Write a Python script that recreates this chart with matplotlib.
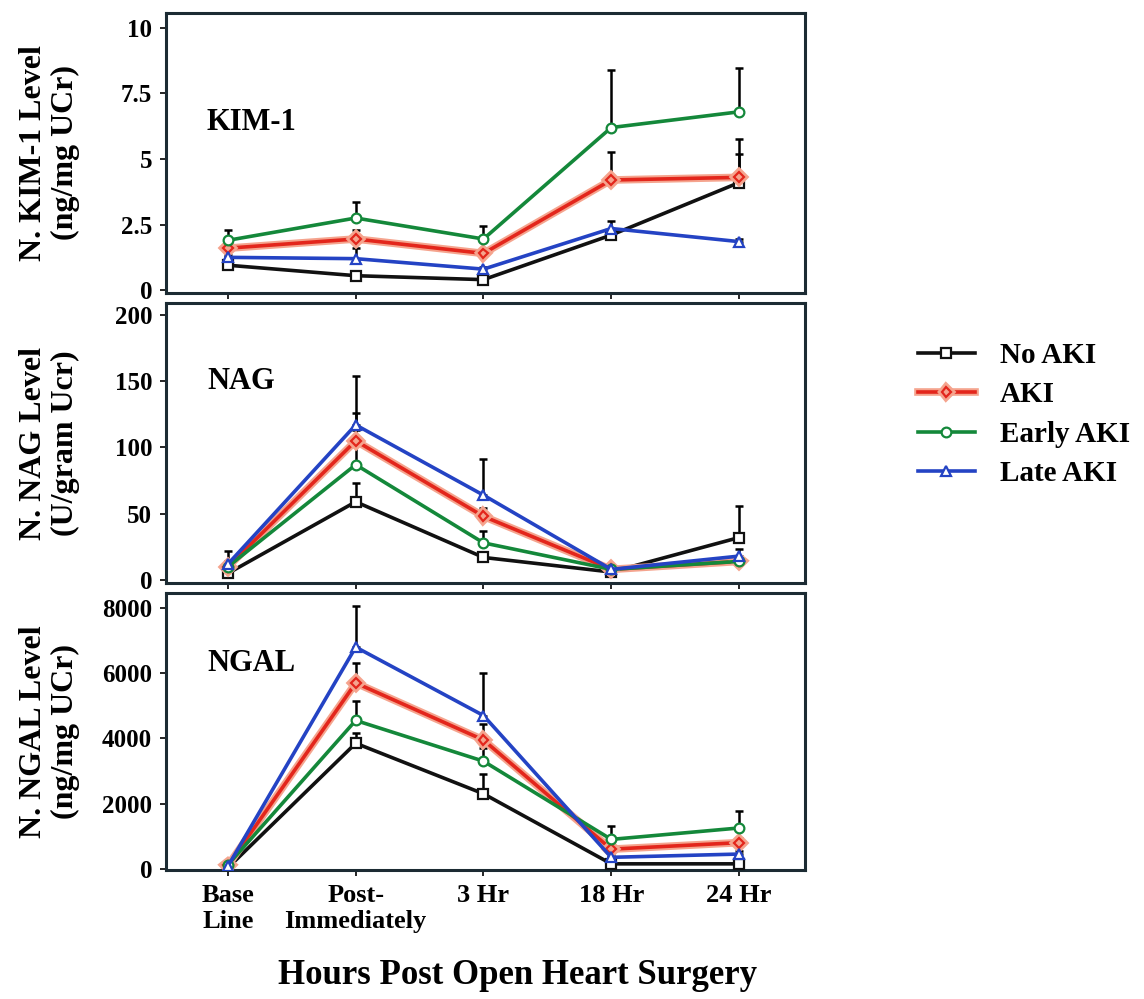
import matplotlib
matplotlib.use("Agg")
import matplotlib.pyplot as plt
import matplotlib.patheffects as pe
import numpy as np

plt.rcParams['font.family'] = ['Liberation Serif', 'DejaVu Serif']
plt.rcParams['font.weight'] = 'bold'

timepoints = ["Base\nLine", "Post-\nImmediately", "3 Hr", "18 Hr", "24 Hr"]
groups = ["No AKI", "AKI", "Early AKI", "Late AKI"]

# KIM-1 (ng/mg UCr)
kim_no_aki = [0.95, 0.55, 0.40, 2.10, 4.10]
kim_aki = [1.60, 1.95, 1.40, 4.20, 4.30]
kim_early = [1.90, 2.75, 1.95, 6.20, 6.80]
kim_late = [1.25, 1.20, 0.80, 2.35, 1.85]
kim_err_no_aki = [0.10, 0.10, 0.10, 0.10, 1.10]
kim_err_aki = [0.15, 0.35, 0.15, 1.05, 1.45]
kim_err_early = [0.40, 0.60, 0.50, 2.20, 1.67]
kim_err_late = [0.10, 0.40, 0.10, 0.30, 0.10]

# NAG (U/gram Ucr)
nag_no_aki = [5, 59, 17, 6, 32]
nag_aki = [10, 105, 48, 8, 14]
nag_early = [10, 87, 28, 8, 14]
nag_late = [12, 117, 64, 8, 18]
nag_err_no_aki = [2, 14, 3, 2, 24]
nag_err_aki = [4, 21, 6, 2, 2]
nag_err_early = [4, 26, 9, 2, 2]
nag_err_late = [10, 37, 27, 3, 5]

# NGAL (ng/mg UCr)
ngal_no_aki = [30, 3850, 2300, 150, 150]
ngal_aki = [100, 5700, 3950, 600, 800]
ngal_early = [120, 4550, 3300, 900, 1250]
ngal_late = [80, 6800, 4700, 350, 450]
ngal_err_no_aki = [20, 300, 600, 40, 40]
ngal_err_aki = [30, 600, 500, 100, 150]
ngal_err_early = [30, 600, 400, 400, 530]
ngal_err_late = [30, 1250, 1300, 80, 100]

colors = ["#111111", "#e3261c", "#14883a", "#2443c4"]
markers = ["s", "D", "o", "^"]
msizes = [7, 5, 7, 7]

panels = [
    dict(name="KIM-1", vals=[kim_no_aki, kim_aki, kim_early, kim_late],
         errs=[kim_err_no_aki, kim_err_aki, kim_err_early, kim_err_late],
         ylim=(-0.11, 10.57), yticks=[0, 2.5, 5, 7.5, 10],
         yticklabels=["0", "2.5", "5", "7.5", "10"],
         ylabel="N. KIM-1 Level\n(ng/mg UCr)", lab_y=0.61,
         rect=[0.1451, 0.7067, 0.5586, 0.2803]),
    dict(name="NAG", vals=[nag_no_aki, nag_aki, nag_early, nag_late],
         errs=[nag_err_no_aki, nag_err_aki, nag_err_early, nag_err_late],
         ylim=(-2.3, 209), yticks=[0, 50, 100, 150, 200],
         yticklabels=["0", "50", "100", "150", "200"],
         ylabel="N. NAG Level\n(U/gram Ucr)", lab_y=0.72,
         rect=[0.1451, 0.4164, 0.5586, 0.2803]),
    dict(name="NGAL", vals=[ngal_no_aki, ngal_aki, ngal_early, ngal_late],
         errs=[ngal_err_no_aki, ngal_err_aki, ngal_err_early, ngal_err_late],
         ylim=(-40, 8460), yticks=[0, 2000, 4000, 6000, 8000],
         yticklabels=["0", "2000", "4000", "6000", "8000"],
         ylabel="N. NGAL Level\n(ng/mg UCr)", lab_y=0.747,
         rect=[0.1451, 0.1291, 0.5586, 0.2773]),
]

fig = plt.figure(figsize=(11.44, 9.99), dpi=100)
x = np.arange(len(timepoints))
handles = []
for pi, p in enumerate(panels):
    ax = fig.add_axes(p["rect"])
    for gi in range(4):
        v = np.array(p["vals"][gi], dtype=float)
        e = np.array(p["errs"][gi], dtype=float)
        ax.errorbar(x, v, yerr=[np.zeros_like(e), e], fmt="none",
                    ecolor="black", elinewidth=1.8, capsize=3, capthick=1.8,
                    zorder=2)
    for gi in [0, 3, 1, 2]:
        v = p["vals"][gi]
        kw = {}
        if gi == 1:
            kw["path_effects"] = [pe.Stroke(linewidth=5.5, foreground="#f5a48e"), pe.Normal()]
        ln, = ax.plot(x, v, color=colors[gi], lw=2.6, marker=markers[gi],
                      ms=msizes[gi], mfc="white" if gi != 1 else "#f5a48e",
                      mec=colors[gi], mew=1.6, zorder=3 + gi, label=groups[gi], **kw)
        if pi == 0:
            handles.append((gi, ln))
    ax.set_xlim(-0.485, 4.517)
    ax.set_ylim(*p["ylim"])
    ax.set_xticks(x)
    if pi == 2:
        ax.set_xticklabels(timepoints, fontsize=19, fontweight="bold",
                           linespacing=1.15)
    else:
        ax.set_xticklabels([])
    ax.set_yticks(p["yticks"])
    ax.set_yticklabels(p["yticklabels"], fontsize=18, fontweight="bold")
    ax.tick_params(direction="out", length=4, width=1.2, pad=6)
    for s in ax.spines.values():
        s.set_linewidth(2.2)
        s.set_color("#1c2b33")
    ax.set_ylabel(p["ylabel"], fontsize=23, fontweight="bold", linespacing=1.15)
    ax.yaxis.set_label_coords(-0.1346, 0.5)
    ax.text(0.064, p["lab_y"], p["name"], transform=ax.transAxes,
            fontsize=22, fontweight="bold", va="center", ha="left")

handles.sort(key=lambda t: t[0])
fig.legend([h for _, h in handles], groups, loc="center left",
           bbox_to_anchor=(0.7795, 0.585), frameon=False,
           prop=dict(size=21, weight="bold"), handlelength=1.95,
           labelspacing=0.42, handletextpad=0.85)

fig.text(0.452, 0.024, "Hours Post Open Heart Surgery", fontsize=25,
         fontweight="bold", ha="center", va="center")

fig.savefig("out.png", dpi=100)
